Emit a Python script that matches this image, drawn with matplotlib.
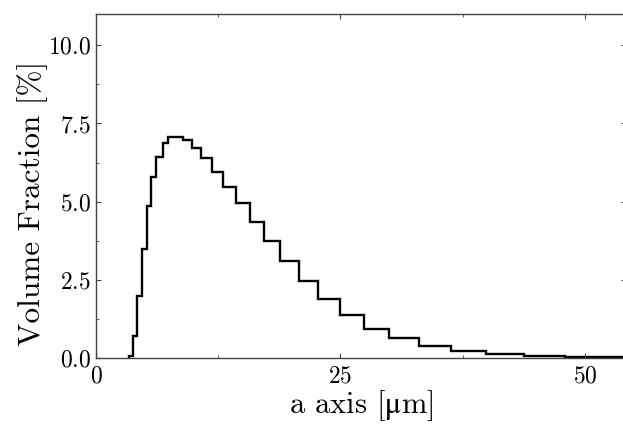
import matplotlib
matplotlib.use("Agg")
import matplotlib.pyplot as plt
import numpy as np
from matplotlib.ticker import MultipleLocator

# bin edges (um) and volume fraction (%)
edges = [3.41, 3.82, 4.23, 4.67, 5.18, 5.63, 6.14, 6.82, 7.40, 8.15,
         8.94, 9.78, 10.75, 11.85, 13.0, 14.27, 15.7, 17.2, 18.85, 20.77,
         22.75, 25.0, 27.4, 30.0, 33.0, 36.3, 39.9, 43.8, 48.0, 52.7, 57.8]
volfrac = [0.07, 0.71, 1.97, 3.49, 4.86, 5.79, 6.44, 6.89, 7.06, 7.06,
           6.96, 6.71, 6.38, 5.96, 5.48, 4.95, 4.35, 3.74, 3.10, 2.47,
           1.89, 1.39, 0.94, 0.63, 0.39, 0.23, 0.13, 0.06, 0.04, 0.03]

plt.rcParams['font.family'] = ['cmr10', 'DejaVu Serif']
plt.rcParams['axes.formatter.use_mathtext'] = True
plt.rcParams['mathtext.fontset'] = 'stix'

fig = plt.figure(figsize=(6.23, 4.24), dpi=100)
ax = fig.add_axes([96/623, 66/424, 530/623, 344/424])

ax.stairs(volfrac, edges, color='black', linewidth=1.7, baseline=0)

ax.set_xlim(0, 54.2)
ax.set_ylim(0, 11.0)
ax.xaxis.set_major_locator(MultipleLocator(25))
ax.xaxis.set_minor_locator(MultipleLocator(12.5))
ax.yaxis.set_major_locator(MultipleLocator(2.5))
ax.yaxis.set_minor_locator(MultipleLocator(1.25))
ax.tick_params(which='both', direction='in', top=True, right=True,
               labelsize=17, color='#444444')
ax.tick_params(which='major', length=3.5, width=0.8)
ax.tick_params(axis='x', which='major', pad=5)
ax.tick_params(which='minor', length=2, width=0.6)
for s in ax.spines.values():
    s.set_color('#444444')
    s.set_linewidth(1.0)

ax.set_xlabel(r'a axis [$\mathrm{\mu}$m]', fontsize=22, labelpad=1)
ax.set_ylabel('Volume Fraction [%]', fontsize=22.5)
ax.yaxis.set_label_coords(-0.09, 0.45)

fig.savefig('out.png', dpi=100)
